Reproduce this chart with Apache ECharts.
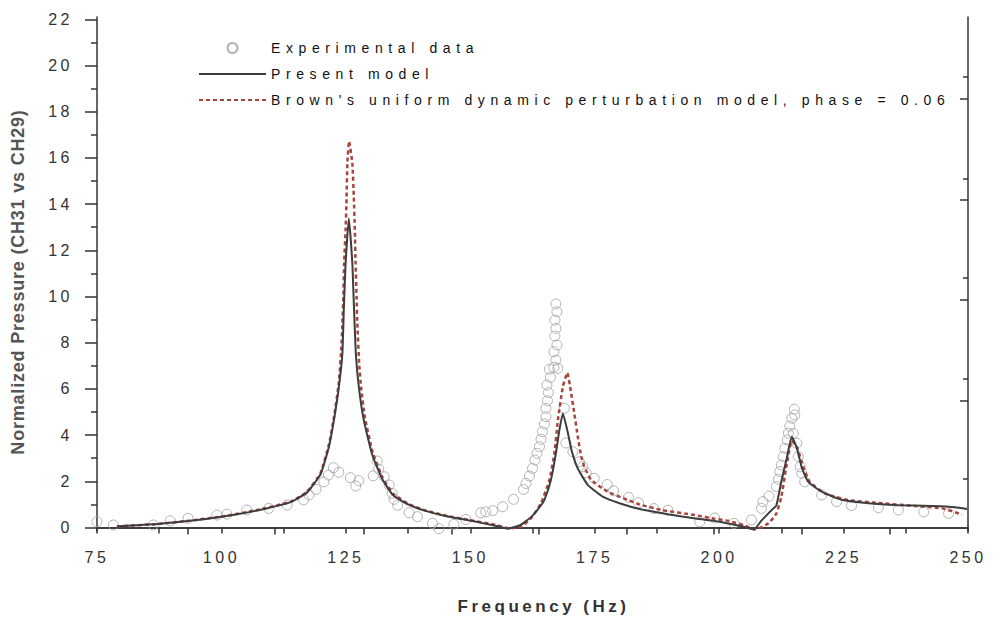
<!DOCTYPE html>
<html><head><meta charset="utf-8">
<script src="https://cdn.jsdelivr.net/npm/echarts@6/dist/echarts.min.js"></script>
<style>
html,body{margin:0;padding:0;background:#fff;}
#main{width:993px;height:625px;}
#main svg text{letter-spacing:3.5px;}
#main svg text[style*="14px"]{letter-spacing:5.6px;}
#main svg text[style*="Arial"]{letter-spacing:0.8px;}
</style></head><body><div id="main"></div>
<script>
// Experimental data (circles)
const expFreq=[75.0,78.3,86.3,89.7,93.3,99.1,101.1,105.1,109.5,113.2,116.5,117.6,119.0,120.6,121.5,122.5,123.6,125.9,127.0,127.6,130.5,131.3,131.6,132.7,133.7,134.3,134.7,135.4,137.7,139.4,142.4,143.7,146.7,149.1,152.1,153.1,154.5,156.5,158.7,160.7,161.2,161.9,162.5,163.0,163.4,163.9,164.2,164.5,164.9,165.2,165.2,165.5,165.7,165.4,166.1,165.9,166.8,167.6,167.2,166.8,167.4,167.0,167.2,167.0,167.4,167.2,168.9,169.2,170.6,171.9,172.6,173.3,174.9,177.5,178.8,181.8,183.8,186.9,189.7,196.1,199.1,203.0,206.5,208.5,208.8,210.0,211.5,211.9,212.2,212.5,212.9,213.2,213.7,213.9,214.2,214.6,215.1,215.2,214.9,215.6,215.9,216.3,216.6,217.2,220.6,223.6,226.6,232.0,236.0,241.1,246.1];
const expVal=[0.25,0.11,0.11,0.29,0.40,0.54,0.58,0.76,0.83,0.97,1.20,1.41,1.65,1.98,2.27,2.59,2.39,2.16,1.80,2.03,2.24,2.88,2.53,2.20,1.84,1.48,1.22,0.97,0.64,0.47,0.18,-0.05,0.14,0.35,0.64,0.68,0.73,0.90,1.22,1.65,1.91,2.23,2.56,2.92,3.21,3.50,3.82,4.15,4.48,4.80,5.16,5.49,5.84,6.17,6.50,6.85,6.94,6.89,7.25,7.61,7.90,8.29,8.62,8.98,9.34,9.68,5.16,3.66,3.28,2.85,2.63,2.37,2.13,1.86,1.59,1.31,1.07,0.82,0.75,0.25,0.41,0.18,0.33,0.83,1.12,1.36,1.77,2.09,2.42,2.71,3.07,3.43,3.79,4.08,4.39,4.73,5.12,4.87,4.08,3.65,3.07,2.63,2.35,1.98,1.41,1.12,0.95,0.86,0.76,0.68,0.61];
// Present model (solid)
const presFreq=[79,83,87,93.7,100.4,107.2,113.9,117.2,119.9,121.6,122.6,123.6,124.3,124.6,124.95,125.6,126.3,126.6,127.0,127.6,128.6,130.3,132.3,134.5,137.5,141,145,150,155,157.5,160,162.2,164,164.9,166.2,167.2,167.9,168.6,169.5,170.4,171.6,173.6,176.5,180,184,190,195,200,204,207,208.5,210.9,211.5,212.5,213.5,214.6,215.6,216.6,217.9,220.6,224.6,230,236,242.7,247.4,249.8];
const presVal=[0.05,0.10,0.15,0.29,0.48,0.74,1.10,1.52,2.30,3.5,4.65,6.1,7.54,9.5,11.44,13.38,11.44,9.7,7.54,6.1,4.65,3.15,2.1,1.4,1.0,0.72,0.5,0.3,0.08,-0.05,0.1,0.45,0.9,1.2,2.06,3.21,4.22,4.94,4.2,3.3,2.55,1.85,1.35,1.05,0.8,0.56,0.4,0.25,0.08,-0.08,0.3,0.83,0.95,2.0,2.92,3.93,3.45,2.6,1.98,1.55,1.2,1.05,0.97,0.93,0.88,0.8];
// Brown's uniform dynamic perturbation model (dashed)
const brFreq=[79,83,87,93.7,100.4,107.2,113.9,117.2,119.9,121.6,122.6,123.6,124.1,124.3,124.5,124.65,124.95,125.15,125.3,125.65,126.3,126.6,126.8,126.95,127.15,127.3,127.7,128.1,128.8,130.4,132.4,134.6,137.6,141,145,150,155,157.8,160.2,162.2,164.2,165.9,166.9,167.6,168.6,169.5,170.2,170.9,171.6,172.3,172.9,174.3,177.6,181.7,184,188.4,195.1,199.1,201.8,205,207.2,209.9,211.5,212.5,213.5,214.6,215.6,216.9,218.2,221.2,225.9,232.7,239.4,244.8,248.8];
const brVal=[0.05,0.10,0.15,0.30,0.49,0.76,1.12,1.55,2.35,3.6,4.75,6.3,7.8,8.84,10.0,11.44,12.9,14.3,15.77,16.72,15.77,14.3,12.9,11.44,10.0,8.84,7.0,6.0,4.8,3.25,2.15,1.45,1.02,0.74,0.52,0.32,0.12,-0.03,0.03,0.40,1.05,2.06,3.21,4.65,6.1,6.7,5.9,4.94,3.93,3.07,2.63,2.06,1.55,1.19,1.0,0.76,0.54,0.38,0.29,0.1,-0.08,0.18,0.61,1.33,2.63,3.75,3.5,2.63,1.98,1.48,1.19,1.05,0.93,0.83,0.56];
// Axis ticks / labels
const xLabelValues=[75,100,125,150,175,200,225,250];
const xTickValues=[75,87.5,100,112.5,125,137.5,150,162.5,175,187.5,200,212.5,225,237.5,250];
const topTickValues=[93.3,110.8,128.5,146.2,163.8,181.4,199,216.6,234.2];
const yLabelValues=[0,2,4,6,8,10,12,14,16,18,20,22];
const yMinorValues=[1,3,5,7,9,11,13,15,17,19,21];
const rightLongTicks=[5.5,9.85,14.2,18.55];
const rightShortTicks=[2.1,6.45,10.8,15.1,19.5];
const seriesNames=['Experimental data','Present model',"Brown's uniform dynamic perturbation model, phase = 0.06"];

const zip=(a,b)=>a.map((v,i)=>[v,b[i]]);
const chart=echarts.init(document.getElementById('main'),null,{renderer:'svg'});
const FONT='Liberation Sans';
const axisColor='#333';
const yBase={type:'value',min:-0.15,max:22.1,splitLine:{show:false}};
chart.setOption({
  animation:false,
  backgroundColor:'#fff',
  grid:{left:97,right:25,top:17,bottom:94,outerBoundsMode:'none'},
  legend:{
    orient:'vertical',left:198,top:41,padding:0,itemWidth:67,itemHeight:10,itemGap:12,
    textStyle:{fontFamily:FONT,fontSize:14,color:'#111'},
    data:[
      {name:seriesNames[0],icon:'circle'},
      {name:seriesNames[1],itemStyle:{opacity:0}},
      {name:seriesNames[2],itemStyle:{opacity:0}}
    ]
  },
  xAxis:[
    {type:'value',position:'bottom',min:75,max:250,
     axisLine:{lineStyle:{color:axisColor,width:1.5}},
     axisTick:{customValues:xTickValues,length:6,lineStyle:{color:axisColor,width:1.5}},
     axisLabel:{customValues:xLabelValues,fontFamily:FONT,fontSize:16,color:'#333',margin:18},
     splitLine:{show:false},
     name:'Frequency (Hz)',nameLocation:'middle',nameGap:67,
     nameTextStyle:{fontFamily:FONT,fontSize:17,fontWeight:'bold',color:'#333',padding:[0,0,0,22]}},
    {type:'value',position:'top',min:75,max:250,
     axisLine:{lineStyle:{color:axisColor,width:1.5}},
     axisTick:{inside:true,customValues:topTickValues,length:7,lineStyle:{color:axisColor,width:1.5}},
     axisLabel:{show:false},splitLine:{show:false}}
  ],
  yAxis:[
    Object.assign({},yBase,{position:'left',
     axisLine:{show:true,lineStyle:{color:axisColor,width:1.5}},
     axisTick:{show:true,customValues:yLabelValues,length:12,lineStyle:{color:axisColor,width:1.5}},
     axisLabel:{customValues:yLabelValues,fontFamily:FONT,fontSize:16,color:'#333',margin:24},
     name:'Normalized Pressure (CH31 vs CH29)',nameLocation:'middle',nameGap:70,
     nameTextStyle:{fontFamily:'Arial',fontSize:18,fontWeight:'bold',color:'#555',padding:[0,16,0,0]}}),
    Object.assign({},yBase,{position:'left',
     axisLine:{show:false},
     axisTick:{show:true,customValues:yMinorValues,length:6,lineStyle:{color:axisColor,width:1.5}},
     axisLabel:{show:false}}),
    Object.assign({},yBase,{position:'right',
     axisLine:{show:true,lineStyle:{color:axisColor,width:1.5}},
     axisTick:{show:true,inside:true,customValues:rightLongTicks,length:8,lineStyle:{color:axisColor,width:1.5}},
     axisLabel:{show:false}}),
    Object.assign({},yBase,{position:'right',
     axisLine:{show:false},
     axisTick:{show:true,inside:true,customValues:rightShortTicks,length:5,lineStyle:{color:axisColor,width:1.5}},
     axisLabel:{show:false}})
  ],
  series:[
    {name:seriesNames[0],type:'scatter',xAxisIndex:0,yAxisIndex:0,symbol:'circle',symbolSize:10,
     itemStyle:{color:'rgba(0,0,0,0)',borderColor:'#a0a0a0',borderWidth:1},
     data:zip(expFreq,expVal),z:1},
    {name:seriesNames[1],type:'line',xAxisIndex:0,yAxisIndex:0,symbol:'none',smooth:0.15,
     lineStyle:{color:'#3d3d3d',width:2},itemStyle:{color:'#3d3d3d'},
     data:zip(presFreq,presVal),z:3},
    {name:seriesNames[2],type:'line',xAxisIndex:0,yAxisIndex:0,symbol:'none',smooth:0.15,
     lineStyle:{color:'#a8443e',width:2.5,type:[4,3]},itemStyle:{color:'#a8443e'},
     data:zip(brFreq,brVal),z:2}
  ]
});
</script></body></html>
